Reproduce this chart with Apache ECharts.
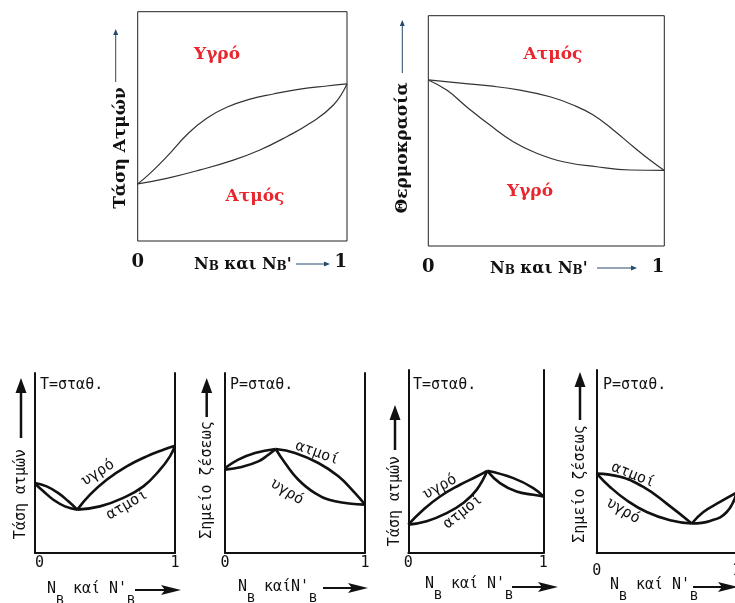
<!DOCTYPE html>
<html>
<head>
<meta charset="utf-8">
<script src="https://cdn.jsdelivr.net/npm/echarts@6/dist/echarts.min.js"></script>
<style>
  html, body { margin: 0; padding: 0; background: #fff; }
  #chart { width: 735px; height: 603px; }
</style>
</head>
<body>
<div id="chart"></div>
<script>
// --- data: mole fraction (0..1) vs relative value (0..100) ---
const xTicks = [0, 1]

// top-left: vapour pressure, ideal solution
const tlLiquid = [[0, 24.9], [0.059, 29.5], [0.139, 36.8], [0.242, 47.0], [0.33, 53.5], [0.425, 58.3], [0.537, 61.9], [0.648, 64.1], [0.775, 66.2], [0.903, 67.6], [1, 68.5]]
const tlVapour = [[0, 24.9], [0.139, 27.3], [0.298, 31.0], [0.457, 35.3], [0.584, 39.7], [0.712, 45.5], [0.823, 51.3], [0.935, 59.3], [1, 68.5]]

// top-right: temperature, ideal solution
const trVapour = [[0, 72.1], [0.148, 70.6], [0.261, 69.5], [0.388, 67.7], [0.516, 64.8], [0.614, 61.2], [0.699, 56.9], [0.784, 50.4], [0.869, 43.1], [0.939, 37.3], [1, 32.8]]
const trLiquid = [[0, 72.1], [0.078, 67.7], [0.162, 60.5], [0.261, 52.5], [0.36, 45.3], [0.459, 40.3], [0.572, 36.6], [0.713, 34.4], [0.855, 33.0], [1, 32.8]]

// bottom 1: T = const, minimum azeotrope
const b1LeftUpper = [[0, 38.9], [0.083, 37.0], [0.167, 33.3], [0.238, 28.7], [0.302, 24.1]]
const b1LeftLower = [[0, 38.5], [0.06, 34.3], [0.131, 29.6], [0.214, 25.9], [0.302, 24.1]]
const b1Liquid = [[0.302, 24.1], [0.393, 32.4], [0.512, 40.7], [0.655, 48.1], [0.798, 53.7], [0.917, 57.4], [1, 59.6]]
const b1Vapour = [[0.302, 24.1], [0.464, 25.9], [0.631, 30.6], [0.774, 37.0], [0.893, 46.3], [0.964, 53.7], [1, 59.6]]

// bottom 2: P = const, maximum azeotrope
const b2LeftUpper = [[0, 47.2], [0.095, 51.9], [0.214, 55.6], [0.362, 57.8]]
const b2LeftLower = [[0, 46.3], [0.119, 47.8], [0.238, 50.9], [0.31, 54.6], [0.362, 57.8]]
const b2Vapour = [[0.362, 57.8], [0.5, 55.6], [0.667, 50.0], [0.81, 42.6], [0.929, 33.3], [1, 26.9]]
const b2Liquid = [[0.362, 57.8], [0.429, 50.0], [0.524, 40.7], [0.643, 33.3], [0.786, 28.7], [1, 26.9]]

// bottom 3: T = const, maximum azeotrope
const b3Liquid = [[0, 15.5], [0.111, 23.6], [0.235, 30.9], [0.383, 37.3], [0.506, 41.8], [0.585, 44.9]]
const b3Vapour = [[0, 15.5], [0.136, 17.3], [0.284, 21.8], [0.407, 27.3], [0.506, 34.5], [0.585, 44.9]]
const b3RightUpper = [[0.585, 44.9], [0.778, 40.9], [0.926, 35.5], [1, 30.9]]
const b3RightLower = [[0.585, 44.9], [0.679, 38.2], [0.802, 33.6], [0.926, 31.8], [1, 30.9]]

// bottom 4: P = const, minimum azeotrope (cut at the right edge)
const b4Vapour = [[0, 43.4], [0.167, 41.6], [0.333, 36.1], [0.5, 27.0], [0.679, 16.1]]
const b4Liquid = [[0, 43.4], [0.095, 36.1], [0.214, 28.8], [0.357, 22.4], [0.524, 17.9], [0.679, 16.1]]
const b4RightUpper = [[0.679, 16.1], [0.762, 22.4], [0.881, 27.9], [1, 33]]
const b4RightLower = [[0.679, 16.1], [0.81, 17.5], [0.929, 22.4], [1, 33]]

const SERIF = '"DejaVu Serif", serif'
const MONO = '"DejaVu Sans Mono", monospace'
const RED = '#e8262d'
const INK = '#111'

const chart = echarts.init(document.getElementById('chart'))

// grids: [left, top, width, height]
const boxes = [
  [137.7, 11.7, 209.3, 229.3],
  [428.3, 15.7, 236, 230.3],
  [35, 373, 140, 180],
  [225, 373, 140, 180],
  [408.3, 370, 135, 183],
  [596.7, 370, 140, 183],
]

// the last panel runs off the right edge, so the grids must not be pulled inside
const grid = boxes.map((b, i) => ({
  left: b[0], top: b[1], width: b[2], height: b[3],
  outerBoundsMode: 'none', containLabel: false,
  show: i < 2, borderColor: '#222', borderWidth: 1, backgroundColor: 'transparent',
}))

const xAxis = boxes.map((b, i) => {
  const top = i < 2
  return {
    gridIndex: i, type: 'value', min: xTicks[0], max: xTicks[1], interval: 1,
    axisLine: { show: !top, onZero: false, lineStyle: { color: INK, width: 2 } },
    axisTick: { show: false },
    splitLine: { show: false },
    axisLabel: top
      ? { margin: 12, fontFamily: SERIF, fontWeight: 'bold', fontSize: 18, color: INK, alignMaxLabel: 'right' }
      : { margin: i === 5 ? 11 : 3, fontFamily: MONO, fontSize: 15, color: INK, alignMinLabel: i === 2 ? 'left' : 'center' },
  }
})

const yAxis = boxes.map((b, i) => ({
  gridIndex: i, type: 'value', min: 0, max: 100,
  axisLine: { show: i >= 2, onZero: false, lineStyle: { color: INK, width: 2 } },
  axisTick: { show: false }, axisLabel: { show: false }, splitLine: { show: false },
}))
// right-hand frame lines of the typewritten panels
;[2, 3, 4].forEach(i => yAxis.push({
  gridIndex: i, type: 'value', min: 0, max: 100, position: 'right',
  axisLine: { show: true, onZero: false, lineStyle: { color: INK, width: 2 } },
  axisTick: { show: false }, axisLabel: { show: false }, splitLine: { show: false },
}))

function curve(data, gi, thin) {
  return {
    type: 'line', data, xAxisIndex: gi, yAxisIndex: gi,
    smooth: 0.45, showSymbol: false, symbol: 'none', silent: true,
    lineStyle: thin ? { width: 1.2, color: '#333' } : { width: 2.6, color: INK },
    z: 3,
  }
}

const series = [
  curve(tlLiquid, 0, true), curve(tlVapour, 0, true),
  curve(trVapour, 1, true), curve(trLiquid, 1, true),
  curve(b1LeftUpper, 2), curve(b1LeftLower, 2), curve(b1Liquid, 2), curve(b1Vapour, 2),
  curve(b2LeftUpper, 3), curve(b2LeftLower, 3), curve(b2Vapour, 3), curve(b2Liquid, 3),
  curve(b3Liquid, 4), curve(b3Vapour, 4), curve(b3RightUpper, 4), curve(b3RightLower, 4),
  curve(b4Vapour, 5), curve(b4Liquid, 5), curve(b4RightUpper, 5), curve(b4RightLower, 5),
]

// --- annotation helpers (pixel positions) ---
function label(x, y, text, font, fill, deg, align) {
  return {
    type: 'text', x, y, rotation: (deg || 0) * Math.PI / 180, z: 10,
    style: {
      text, font, fill,
      align: align || 'center', textAlign: align || 'center',
      verticalAlign: 'middle', textVerticalAlign: 'middle',
    },
  }
}
function seg(x1, y1, x2, y2, w, color) {
  return { type: 'line', z: 10, shape: { x1, y1, x2, y2 }, style: { stroke: color || INK, lineWidth: w } }
}
function head(points, color) {
  return { type: 'polygon', z: 10, shape: { points }, style: { fill: color || INK } }
}
function upArrow(x, tip, base, thick) {
  if (thick) return [seg(x, tip + 10, x, base, 2.5), head([[x, tip], [x - 5.5, tip + 15], [x + 5.5, tip + 15]])]
  return [seg(x, tip + 4, x, base, 1, '#274b6d'), head([[x, tip], [x - 2.5, tip + 6], [x + 2.5, tip + 6]], '#274b6d')]
}
function rightArrow(x1, x2, y, thick) {
  if (thick) return [seg(x1, y, x2 - 12, y, 2), head([[x2, y], [x2 - 20, y - 5], [x2 - 16, y], [x2 - 20, y + 5]])]
  return [seg(x1, y, x2 - 4, y, 1, '#274b6d'), head([[x2, y], [x2 - 6, y - 2.5], [x2 - 6, y + 2.5]], '#274b6d')]
}
function nbTop(x, y) {
  const n = { fontSize: 16, fontWeight: 'bold', fontFamily: SERIF, lineHeight: 20, verticalAlign: 'bottom' }
  const s = { fontSize: 12, fontWeight: 'bold', fontFamily: SERIF, lineHeight: 14, verticalAlign: 'bottom' }
  return {
    type: 'text', x, y, z: 10,
    style: {
      text: '{n|N}{s|B}{n| και N}{s|B}{n|\'}', rich: { n, s }, fill: INK,
      align: 'left', textAlign: 'left', verticalAlign: 'middle', textVerticalAlign: 'middle',
    },
  }
}
function nbBottom(x, y, mid) {
  const n = { fontSize: 15, fontFamily: MONO, lineHeight: 16, verticalAlign: 'top' }
  const s = { fontSize: 13, fontFamily: MONO, lineHeight: 25, verticalAlign: 'bottom' }
  return {
    type: 'text', x, y, z: 10,
    style: {
      text: '{n|N}{s|B}{n|' + mid + 'N}{n|\'}{s|B}', rich: { n, s }, fill: INK,
      align: 'left', textAlign: 'left', verticalAlign: 'top', textVerticalAlign: 'top',
    },
  }
}

const fTitle = 'bold 17px ' + SERIF
const fRed = 'bold 17px ' + SERIF
const fMono = '15px ' + MONO

const graphic = [
  // top-left
  label(121, 148, 'Τάση Ατμών', fTitle, INK, 90),
  ...upArrow(115.7, 29, 82),
  nbTop(194, 263),
  ...rightArrow(296, 330, 264),
  label(217, 55, 'Υγρό', fRed, RED),
  label(255, 197, 'Ατμός', fRed, RED),
  // top-right
  label(403, 148, 'Θερμοκρασία', fTitle, INK, 90),
  ...upArrow(402.3, 20, 73),
  nbTop(490, 267),
  ...rightArrow(597, 637, 268),
  label(553, 55, 'Ατμός', fRed, RED),
  label(530, 192, 'Υγρό', fRed, RED),
  // bottom 1
  label(40, 385, 'T=σταθ.', fMono, INK, 0, 'left'),
  label(21, 494, 'Τάση ατμών', fMono, INK, 90),
  ...upArrow(21, 378, 438, true),
  nbBottom(47, 582, ' καί '),
  ...rightArrow(135, 181, 590, true),
  label(98, 473, 'υγρό', fMono, INK, 33),
  label(127, 505, 'ατμοί', fMono, INK, 30),
  // bottom 2
  label(230, 385, 'P=σταθ.', fMono, INK, 0, 'left'),
  label(206.7, 480, 'Σημείο ζέσεως', fMono, INK, 90),
  ...upArrow(206.7, 378, 417, true),
  nbBottom(238, 580, ' καί'),
  ...rightArrow(323, 368, 588, true),
  label(317, 453, 'ατμοί', fMono, INK, -20),
  label(287, 492, 'υγρό', fMono, INK, -32),
  // bottom 3
  label(413, 385, 'T=σταθ.', fMono, INK, 0, 'left'),
  label(395, 501, 'Τάση ατμών', fMono, INK, 90),
  ...upArrow(395, 405, 450, true),
  nbBottom(425, 577, ' καί '),
  ...rightArrow(512, 558, 587, true),
  label(440, 487, 'υγρό', fMono, INK, 29),
  label(463, 512, 'ατμοί', fMono, INK, 38),
  // bottom 4
  label(603, 385, 'P=σταθ.', fMono, INK, 0, 'left'),
  label(580, 484, 'Σημείο ζέσεως', fMono, INK, 90),
  ...upArrow(580, 372, 420, true),
  nbBottom(610, 578, ' καί '),
  ...rightArrow(693, 738, 587, true),
  label(633, 475, 'ατμοί', fMono, INK, -22),
  label(623, 511, 'υγρό', fMono, INK, -30),
]

chart.setOption({
  animation: false,
  backgroundColor: '#fff',
  grid, xAxis, yAxis, series, graphic,
})
</script>
</body>
</html>
